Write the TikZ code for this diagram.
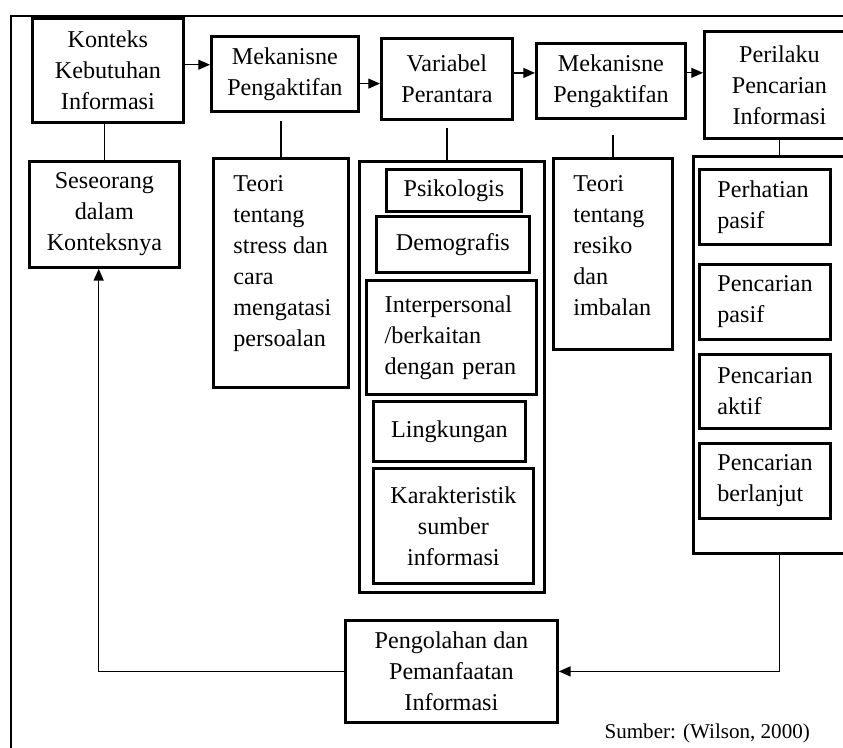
\documentclass[tikz,border=0pt]{standalone}
\usepackage{fontspec}
\setmainfont{Liberation Serif}
\usetikzlibrary{arrows.meta}

\tikzset{
  box/.style={draw, line width=2.4pt, anchor=north west},
  cbox/.style={box, align=center},
  lbox/.style={box, align=left, text width=#1},
  sz/.style 2 args={minimum width=#1*0.03cm, minimum height=#2*0.03cm},
  link/.style={line width=1.1pt},
}

\begin{document}
\begin{tikzpicture}[x=0.03cm, y=-0.03cm, font=\fontsize{20.6}{26.5}\selectfont,
    >={Triangle[length=10pt,width=8.5pt]}]
  \useasboundingbox (0,0) rectangle (843,747);
  \clip (0,0) rectangle (843,747);

  % bingkai
  \draw[line width=2.2pt] (11,770) -- (11,16) -- (870,16);

  % baris atas
  \node[cbox, sz={151}{104}] (konteks)  at (31,17)  {Konteks\\Kebutuhan\\Informasi};
  \node[cbox, sz={147}{75}]  (mek1)     at (210,35) {Mekanisne\\Pengaktifan};
  \node[cbox, sz={131}{81}]  (variabel) at (380,37) {Variabel\\Perantara};
  \node[cbox, sz={149}{75}]  (mek2)     at (535,42) {Mekanisne\\Pengaktifan};
  \node[cbox, sz={150}{107}] (perilaku) at (703,30) {Perilaku\\Pencarian\\Informasi};

  % baris kedua
  \node[cbox, sz={150}{106}] (seseorang) at (28,160) {Seseorang\\dalam\\Konteksnya};
  \node[box, inner xsep=0.6cm, inner ysep=0.51cm] (teori1) at (212,157)
    {\parbox[t][5.85cm][t]{2.85cm}{Teori\\tentang\\stress dan\\cara\\mengatasi\\persoalan}};
  \node[box, sz={185}{431}] (varluar) at (358,160) {};
  \node[box, inner xsep=0.6cm, inner ysep=0.51cm] (teori2) at (552,157)
    {\parbox[t][4.71cm][t]{2.37cm}{Teori\\tentang\\resiko\\dan\\imbalan}};
  \node[box, sz={172}{397}] (pluar) at (692,155) {};

  % variabel perantara
  \node[cbox, sz={135}{42}]  (psikologis)    at (385,168) {Psikologis};
  \node[cbox, sz={153}{56}]  (demografis)    at (375,215) {Demografis};
  \node[lbox=4.0cm, sz={170}{114}] (interpersonal) at (365,279) {Interpersonal\\/berkaitan\\dengan~peran};
  \node[cbox, sz={152}{60}]  (lingkungan)    at (372,400) {Lingkungan};
  \node[cbox, sz={160}{115}] (karakteristik) at (372,467) {Karakteristik\\sumber\\informasi};

  % perilaku pencarian
  \node[lbox=2.85cm, sz={131}{75}] (perhatian) at (698,168) {Perhatian\\pasif};
  \node[lbox=2.85cm, sz={131}{75}] (pasif)     at (698,263) {Pencarian\\pasif};
  \node[lbox=2.85cm, sz={131}{74}] (aktif)     at (698,353) {Pencarian\\aktif};
  \node[lbox=2.85cm, sz={131}{75}] (lanjut)    at (698,442) {Pencarian\\berlanjut};

  \node[cbox, sz={212}{102}] (pengolahan) at (344,619) {Pengolahan dan\\Pemanfaatan\\Informasi};

  \node[anchor=east, font=\fontsize{18}{20}\selectfont] (sumber) at (814,733) {Sumber: (Wilson, 2000)};

  \draw[link,->] (konteks.east |- mek1.173) -- (mek1.173);
  \draw[link,->] (mek1.east |- variabel.184) -- (variabel.184);
  \draw[link,->] (variabel.east |- mek2.174) -- (mek2.174);
  \draw[link,->] (mek2.east |- perilaku.171) -- (perilaku.171);

  \draw[link] (seseorang.north) -- (seseorang.north |- konteks.south);
  \draw[link, shorten >=0.24cm] (teori1.north) -- (teori1.north |- mek1.south);
  \draw[link, shorten <=0.21cm] (variabel.south) -- (variabel.south |- varluar.north);
  \draw[link, shorten >=0.45cm] (teori2.north) -- (teori2.north |- mek2.south);
  \draw[link] (perilaku.south) -- (pluar.north);

  \draw[link,->] (pluar.south) |- (pengolahan.east);
  \draw[link,->] (pengolahan.west) -| (seseorang.264);
\end{tikzpicture}
\end{document}
